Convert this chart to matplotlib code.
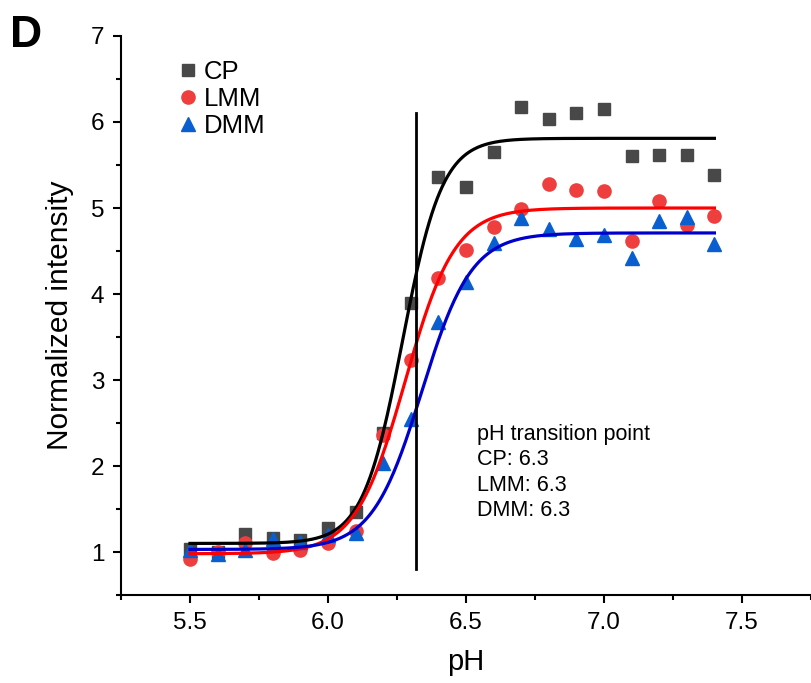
import numpy as np
import matplotlib
matplotlib.use("Agg")
import matplotlib.pyplot as plt
from matplotlib.ticker import MultipleLocator

plt.rcParams['font.family'] = ['Liberation Sans', 'DejaVu Sans']

# ---- data ----
ph = [5.5, 5.6, 5.7, 5.8, 5.9, 6.0, 6.1, 6.2, 6.3, 6.4, 6.5, 6.6, 6.7, 6.8, 6.9, 7.0, 7.1, 7.2, 7.3, 7.4]
cp = [1.03, 1.00, 1.21, 1.16, 1.14, 1.28, 1.46, 2.38, 3.90, 5.36, 5.24, 5.65, 6.17, 6.03, 6.10, 6.15, 5.61, 5.62, 5.62, 5.38]
lmm = [0.92, 1.00, 1.11, 0.99, 1.02, 1.11, 1.25, 2.36, 3.23, 4.19, 4.51, 4.78, 4.99, 5.28, 5.21, 5.20, 4.62, 5.08, 4.80, 4.91]
dmm = [1.02, 0.98, 1.02, 1.15, 1.12, 1.20, 1.22, 2.03, 2.55, 3.68, 4.14, 4.59, 4.88, 4.76, 4.64, 4.69, 4.42, 4.85, 4.89, 4.58]

# Boltzmann fit parameters (A1, A2, x0, dx)
fit_cp = (1.10, 5.81, 6.27, 0.072)
fit_lmm = (0.98, 5.00, 6.28, 0.090)
fit_dmm = (1.03, 4.71, 6.34, 0.090)

transition_ph = 6.32
transition_span = (0.8, 6.1)
annotation = "pH transition point\nCP: 6.3\nLMM: 6.3\nDMM: 6.3"


def boltzmann(x, p):
    a1, a2, x0, dx = p
    return a2 + (a1 - a2) / (1 + np.exp((x - x0) / dx))


fig = plt.figure(figsize=(8.11, 6.83), dpi=100)
ax = fig.add_axes([0.1492, 0.1288, 0.8508, 0.8185])

xs = np.linspace(min(ph), max(ph), 400)

ax.plot(ph, cp, 's', color='#484848', markersize=8.5, label='CP', zorder=3)
ax.plot(ph, lmm, 'o', color='#ee3e3e', markersize=9.5, label='LMM', zorder=3)
ax.plot(ph, dmm, '^', color='#0a5fd0', markersize=10, label='DMM', zorder=3)

ax.plot(xs, boltzmann(xs, fit_cp), color='black', lw=2.3, zorder=4)
ax.plot(xs, boltzmann(xs, fit_lmm), color='#ff0000', lw=2.3, zorder=4)
ax.plot(xs, boltzmann(xs, fit_dmm), color='#0000cc', lw=2.3, zorder=4)

ax.plot([transition_ph, transition_ph], transition_span, color='black', lw=2.0, zorder=5)

ax.text(6.54, 2.49, annotation, fontsize=15.5, va='top', ha='left', linespacing=1.28)

ax.set_xlim(5.25, 7.75)
ax.set_ylim(0.5, 7)
ax.xaxis.set_major_locator(MultipleLocator(0.5))
ax.xaxis.set_minor_locator(MultipleLocator(0.25))
ax.yaxis.set_major_locator(MultipleLocator(1))
ax.yaxis.set_minor_locator(MultipleLocator(0.5))
ax.set_yticks([1, 2, 3, 4, 5, 6, 7])
ax.set_xticks([5.5, 6.0, 6.5, 7.0, 7.5])
ax.set_xticklabels(['5.5', '6.0', '6.5', '7.0', '7.5'])

for s in ['top', 'right']:
    ax.spines[s].set_visible(False)
for s in ['left', 'bottom']:
    ax.spines[s].set_linewidth(1.5)

ax.tick_params(axis='both', which='major', direction='out', length=6, width=1.5,
               labelsize=17.5, pad=6)
ax.tick_params(axis='both', which='minor', direction='out', length=3.5, width=1.5)

ax.set_xlabel('pH', fontsize=21, labelpad=10)
ax.set_ylabel('Normalized intensity', fontsize=21.5, labelpad=12)

ax.legend(loc='upper left', bbox_to_anchor=(0.083, 0.957), frameon=False,
          fontsize=18.5, labelspacing=0.12, handlelength=0.75, handletextpad=0.25,
          borderpad=0, borderaxespad=0)

fig.text(0.012, 0.978, 'D', fontsize=32, fontweight='bold', va='top', ha='left')

fig.savefig('out.png', dpi=100)
